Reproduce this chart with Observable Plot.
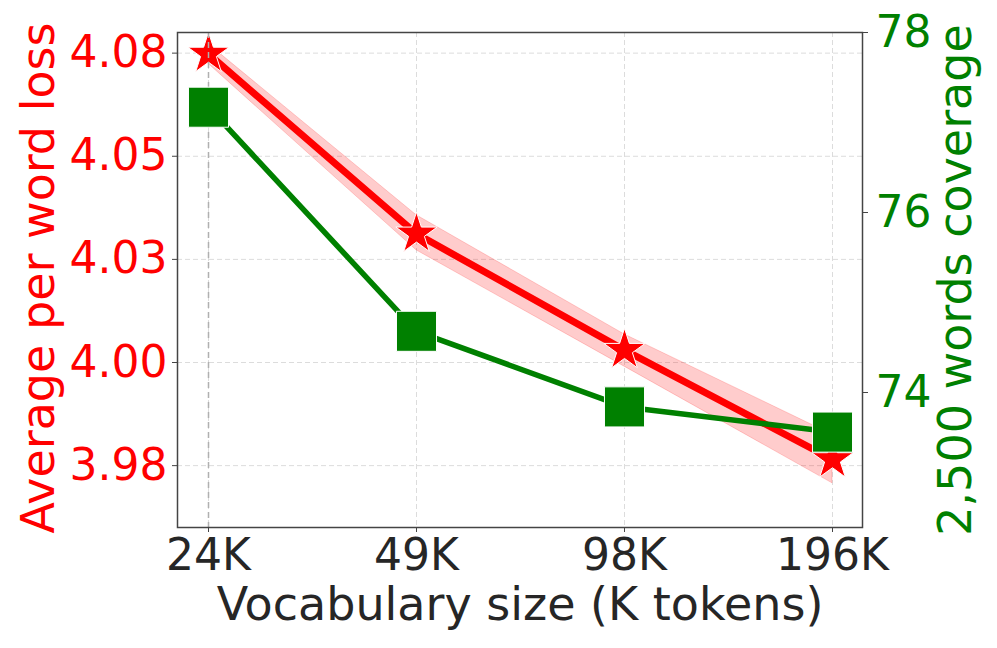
<!DOCTYPE html>
<html>
<head>
<meta charset="utf-8">
<script src="https://cdn.jsdelivr.net/npm/d3@7"></script>
<script src="https://cdn.jsdelivr.net/npm/@observablehq/plot@0.6"></script>
<style>
  html, body { margin: 0; padding: 0; background: #fff; }
  #wrap { position: relative; width: 997px; height: 648px; }
  #wrap svg { position: absolute; left: 0; top: 0; }
</style>
</head>
<body>
<div id="wrap"></div>
<script>
// ---- data ----
const vocab = ["24K", "49K", "98K", "196K"];
const loss = [4.0748, 4.0312, 4.0030, 3.9765];
const lossLo = [4.0724, 4.0272, 3.9990, 3.9707];
const lossHi = [4.0772, 4.0357, 4.0068, 3.9825];
const coverage = [77.17, 74.68, 73.84, 73.56];
const lossTicks = [3.975, 4.000, 4.025, 4.050, 4.075];
const lossTickLabels = ["3.98", "4.00", "4.03", "4.05", "4.08"];
const coverageTicks = [74, 76, 78];
const xLabel = "Vocabulary size (K tokens)";
const yLabelLeft = "Average per word loss";
const yLabelRight = "2,500 words coverage";

const rows = vocab.map((v, i) => ({v, loss: loss[i], lo: lossLo[i], hi: lossHi[i], cov: coverage[i]}));

const FONT = "DejaVu Sans, Liberation Sans, sans-serif";
const dims = {
  width: 997, height: 648,
  marginLeft: 177, marginRight: 135, marginTop: 32, marginBottom: 121
};
const xScale = {type: "point", domain: vocab, padding: 0.144};
const gridStyle = {stroke: "#dcdcdc", strokeOpacity: 1, strokeWidth: 1, strokeDasharray: "5,3"};

const left = Plot.plot({
  ...dims,
  style: {fontFamily: FONT, background: "transparent", overflow: "visible"},
  x: xScale,
  y: {domain: [3.960, 4.080]},
  marks: [
    Plot.gridX(vocab, gridStyle),
    Plot.gridY(lossTicks, gridStyle),
    Plot.areaY(rows, {x: "v", y1: "lo", y2: "hi", fill: "red", fillOpacity: 0.2, stroke: "red", strokeOpacity: 0.18, strokeWidth: 1}),
    Plot.lineY(rows, {x: "v", y: "loss", stroke: "red", strokeWidth: 7}),
    Plot.dot(rows, {x: "v", y: "loss", symbol: "star", r: 13, fill: "red", stroke: "white", strokeWidth: 1}),
    Plot.ruleX(vocab.slice(0, 1), {stroke: "#b0b0b0", strokeWidth: 1.5, strokeDasharray: "6,4"}),
    Plot.frame({stroke: "#444", strokeWidth: 1.5}),
    Plot.axisY(lossTicks, {
      anchor: "left", label: null, tickSize: 5, tickPadding: 5,
      tickFormat: d => lossTickLabels[lossTicks.indexOf(d)],
      stroke: "#444", fill: "red", fontSize: 44
    }),
    Plot.axisX(vocab, {
      anchor: "bottom", label: null, tickSize: 5, tickPadding: 6,
      stroke: "#444", fill: "#262626", fontSize: 44
    }),
    Plot.text([yLabelLeft], {frameAnchor: "left", rotate: -90, dx: -138, dy: -2, fill: "red", fontSize: 46, textAnchor: "middle", lineAnchor: "middle"}),
    Plot.text([xLabel], {frameAnchor: "bottom", dy: 78, fill: "#262626", fontSize: 46, textAnchor: "middle", lineAnchor: "middle"})
  ]
});

const right = Plot.plot({
  ...dims,
  style: {fontFamily: FONT, background: "transparent", overflow: "visible"},
  x: {...xScale, axis: null},
  y: {domain: [72.5, 78]},
  marks: [
    Plot.lineY(rows, {x: "v", y: "cov", stroke: "green", strokeWidth: 5.5}),
    Plot.dot(rows, {x: "v", y: "cov", symbol: "square", r: 22.6, fill: "green", stroke: "white", strokeWidth: 1}),
    Plot.axisY(coverageTicks, {
      anchor: "right", label: null, tickSize: 5, tickPadding: 8,
      tickFormat: d3.format("d"),
      stroke: "#444", fill: "green", fontSize: 44
    }),
    Plot.text([yLabelRight], {frameAnchor: "right", rotate: -90, dx: 94, dy: 0, fill: "green", fontSize: 46, textAnchor: "middle", lineAnchor: "middle"})
  ]
});

const wrap = document.getElementById("wrap");
wrap.appendChild(left);
wrap.appendChild(right);
</script>
</body>
</html>
